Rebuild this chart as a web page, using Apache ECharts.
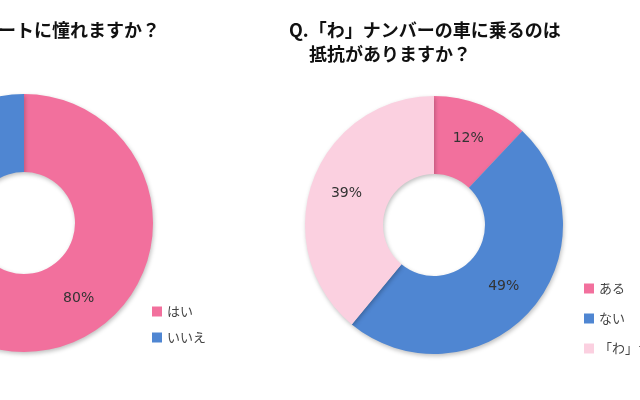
<!DOCTYPE html>
<html><head><meta charset="utf-8">
<script src="https://cdn.jsdelivr.net/npm/echarts@6/dist/echarts.min.js"></script>
<style>html,body{margin:0;background:#fff}#c{width:640px;height:400px}</style>
</head><body><div id="c"></div>
<script>
const leftNames = ['はい', 'いいえ'];
const leftValues = [80, 20];
const rightNames = ['ある', 'ない', '「わ」ナンバーを知らない'];
const rightValues = [12, 49, 39];
const leftColors = ['#F2709D', '#4F86D2'];
const rightColors = ['#F2709D', '#4F86D2', '#FBD0E0'];

const chart = echarts.init(document.getElementById('c'));
const font = '"Noto Sans CJK JP", sans-serif';
function donut(names, values, colors, center) {
  return {
    type: 'pie', center: center, radius: [51, 129], startAngle: 90, clockwise: true,
    silent: true,
    data: names.map((n, i) => ({ name: n, value: values[i], itemStyle: { color: colors[i] } })),
    itemStyle: { shadowBlur: 4, shadowColor: 'rgba(0,0,0,0.25)', shadowOffsetX: 1, shadowOffsetY: 2 },
    label: { position: 'inside', formatter: '{c}%', color: '#333', fontSize: 14, fontFamily: 'Verdana, "DejaVu Sans", sans-serif' },
    labelLine: { show: false }
  };
}
chart.setOption({
  animation: false,
  legend: [
    { data: leftNames, left: 147, top: 300, orient: 'vertical', itemWidth: 10, itemHeight: 10, itemGap: 13,
      icon: 'rect', textStyle: { fontSize: 13, color: '#444', fontFamily: font } },
    { data: rightNames, left: 579, top: 277, orient: 'vertical', itemWidth: 10, itemHeight: 10, itemGap: 17,
      icon: 'rect', textStyle: { fontSize: 13, color: '#444', fontFamily: font } }
  ],
  graphic: [
    { type: 'text', left: -2, top: 21, style: { text: 'ートに憧れますか？', font: 'bold 18px "Noto Sans CJK JP"', fill: '#111' } },
    { type: 'text', left: 289, top: 21, style: { text: 'Q.「わ」ナンバーの車に乗るのは', font: 'bold 18px "Noto Sans CJK JP"', fill: '#111' } },
    { type: 'text', left: 309, top: 45, style: { text: '抵抗がありますか？', font: 'bold 18px "Noto Sans CJK JP"', fill: '#111' } }
  ],
  series: [
    donut(leftNames, leftValues, leftColors, [24, 223]),
    donut(rightNames, rightValues, rightColors, [434, 225])
  ]
});
</script></body></html>
